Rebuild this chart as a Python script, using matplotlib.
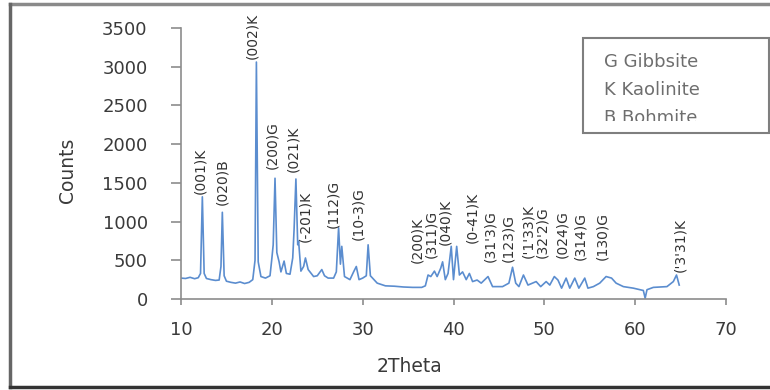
import matplotlib
matplotlib.use("Agg")
import matplotlib.pyplot as plt
from matplotlib.lines import Line2D
from matplotlib.patches import Rectangle

# diffractogram (2theta, counts)
two_theta = [10.0, 10.5, 11.0, 11.5, 11.9, 12.15, 12.35, 12.55, 12.8, 13.3,
             13.8, 14.2, 14.4, 14.55, 14.75, 15.0, 15.5, 16.0, 16.5, 17.0,
             17.5, 17.9, 18.15, 18.3, 18.5, 18.8, 19.3, 19.8, 20.0, 20.15,
             20.35, 20.55, 20.8, 21.0, 21.35, 21.6, 22.0, 22.3, 22.45, 22.65,
             22.85, 22.95, 23.2, 23.5, 23.7, 24.0, 24.6, 25.0, 25.5, 25.8,
             26.2, 26.8, 27.1, 27.35, 27.55, 27.7, 28.0, 28.6, 29.0, 29.3,
             29.6, 30.0, 30.4, 30.6, 30.85, 31.6, 32.5, 33.5, 34.5, 35.5,
             36.5, 36.9, 37.2, 37.5, 37.9, 38.2, 38.6, 38.8, 39.1, 39.4,
             39.75, 40.0, 40.35, 40.65, 41.0, 41.4, 41.75, 42.1, 42.6, 43.05,
             43.8, 44.3, 45.4, 46.1, 46.5, 46.85, 47.2, 47.7, 48.2, 49.1,
             49.6, 50.2, 50.6, 51.1, 51.5, 51.9, 52.4, 52.8, 53.35, 53.8,
             54.45, 54.8, 55.4, 56.1, 56.8, 57.4, 57.9, 58.7, 59.8, 60.5,
             60.9, 61.1, 61.3, 62.0, 63.5, 64.2, 64.55, 64.85]
counts = [270, 265, 280, 262, 275, 330, 1320, 330, 265, 250,
          240, 245, 420, 1120, 300, 230, 215, 205, 220, 200,
          215, 250, 500, 3060, 480, 290, 270, 300, 520, 700,
          1560, 600, 480, 350, 490, 330, 320, 530, 900, 1550,
          700, 745, 360, 420, 530, 380, 290, 300, 380, 300,
          270, 270, 350, 920, 450, 680, 290, 250, 350, 420,
          250, 270, 300, 700, 300, 205, 170, 165, 155, 150,
          150, 170, 310, 290, 360, 290, 400, 480, 250, 330,
          680, 250, 680, 310, 350, 250, 330, 225, 245, 205,
          290, 160, 160, 205, 410, 205, 160, 310, 180, 225,
          160, 225, 180, 290, 245, 140, 270, 140, 270, 140,
          270, 140, 160, 205, 290, 270, 205, 160, 140, 120,
          110, 10, 120, 150, 160, 225, 310, 180]

# reflection labels: text, 2theta, counts at the foot of the label
peak_names = ["(001)K", "(020)B", "(002)K", "(200)G", "(021)K", "(-201)K",
              "(112)G", "(10-3)G", "(200)K", "(311)G", "(040)K", "(0-41)K",
              "(31'3)G", "(123)G", "('1'33)K", "(32'2)G", "(024)G",
              "(314)G", "(130)G", "('3'31)K"]
peak_pos = [12.1, 14.5, 17.8, 20.0, 22.35, 23.7, 26.8, 29.55, 36.0, 37.6,
            39.1, 42.05, 44.1, 46.05, 48.25, 49.8, 52.0, 54.0, 56.4, 65.0]
peak_base = [1350, 1220, 3100, 1675, 1635, 740, 920, 765, 468, 533,
             700, 727, 480, 480, 533, 533, 533, 507, 507, 350]

legend_lines = ["G Gibbsite", "K Kaolinite", "B Bohmite"]

W, H = 770, 390
fig = plt.figure(figsize=(W / 100, H / 100), dpi=100)
fig.patch.set_facecolor("white")

ax = fig.add_axes([181 / W, 1 - 299 / H, (726 - 181) / W, (299 - 28) / H])
ax.plot(two_theta, counts, color="#5b8dcf", lw=1.2)
ax.set_xlim(10, 70)
ax.set_ylim(0, 3500)
ax.set_xticks(range(10, 71, 10))
ax.set_yticks(range(0, 3501, 500))

for s in ["top", "right"]:
    ax.spines[s].set_visible(False)
for s in ["left", "bottom"]:
    ax.spines[s].set_color("#8c8c8c")
    ax.spines[s].set_linewidth(1.2)
ax.tick_params(axis="y", direction="out", length=7, width=1.2, color="#8c8c8c",
               pad=17, labelsize=13, labelcolor="#3a3a3a")
ax.tick_params(axis="x", direction="out", length=4, width=1.2, color="#8c8c8c",
               pad=12, labelsize=13, labelcolor="#3a3a3a")

for name, x, y in zip(peak_names, peak_pos, peak_base):
    ax.text(x, y, name, rotation=90, ha="center", va="bottom",
            fontsize=10, color="#333333")

fig.text(410 / W, 1 - 367 / H, "2Theta", ha="center", va="center",
         fontsize=13.5, color="#3a3a3a")
fig.text(68 / W, 1 - 170 / H, "Counts", ha="center", va="center",
         rotation=90, fontsize=13.5, color="#3a3a3a")

# legend box, last entry cut off by the box
box = Rectangle((583 / W, 1 - 133 / H), (769 - 583) / W, (133 - 38) / H,
                transform=fig.transFigure, facecolor="white",
                edgecolor="#7f7f7f", lw=1.5)
fig.patches.append(box)
clip = Rectangle((583 / W, 1 - 121 / H), (769 - 583) / W, (121 - 38) / H,
                 transform=fig.transFigure, facecolor="none", edgecolor="none")
for i, t in enumerate(legend_lines):
    txt = fig.text(604 / W, 1 - (62 + 28 * i) / H, t, ha="left", va="center",
                   fontsize=13, color="#6e6e6e")
    txt.set_clip_path(clip)

# outer frame
fig.add_artist(Line2D([10 / W, 1], [1 - 4 / H, 1 - 4 / H],
                      transform=fig.transFigure, color="#8a8a8a", lw=2.5))
fig.add_artist(Line2D([10 / W, 10 / W], [1 - 4 / H, 1 - 387 / H],
                      transform=fig.transFigure, color="#666666", lw=2.5))
fig.add_artist(Line2D([10 / W, 1], [1 - 387 / H, 1 - 387 / H],
                      transform=fig.transFigure, color="#333333", lw=2.5))

fig.savefig("out.png", dpi=100)
